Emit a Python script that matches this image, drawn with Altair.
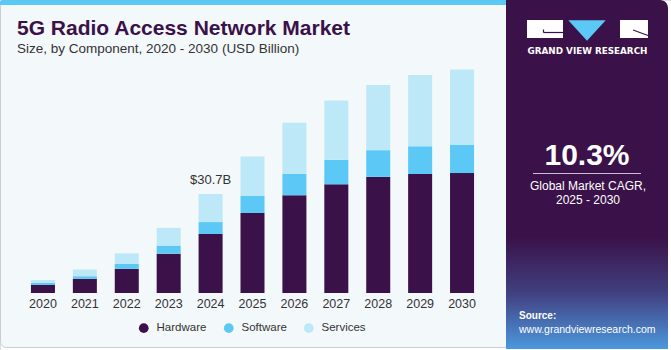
import altair as alt
import pandas as pd

years = ["2020", "2021", "2022", "2023", "2024", "2025", "2026", "2027", "2028", "2029", "2030"]
hardware = [2.5, 4.4, 7.5, 12.2, 18.3, 24.8, 30.3, 33.7, 36.0, 36.9, 37.2]
software = [0.6, 0.8, 1.5, 2.5, 3.7, 5.4, 6.6, 7.6, 8.3, 8.6, 8.8]
services = [0.9, 2.1, 3.3, 5.5, 8.7, 12.1, 15.9, 18.4, 20.2, 22.1, 23.3]
components = ["Hardware", "Software", "Services"]
colors = ["#3A1249", "#5BC8F5", "#BDE8F8"]
label_year = "2024"
label_text = "$30.7B"

title = "5G Radio Access Network Market"
subtitle = "Size, by Component, 2020 - 2030 (USD Billion)"
cagr = "10.3%"
cagr_line1 = "Global Market CAGR,"
cagr_line2 = "2025 - 2030"
brand = "GRAND VIEW RESEARCH"
source1 = "Source:"
source2 = "www.grandviewresearch.com"

PURPLE = "#3A1249"
FONT = "Liberation Sans"

rows = []
for i, y in enumerate(years):
    for k, (c, vals) in enumerate(zip(components, [hardware, software, services])):
        rows.append({"year": y, "component": c, "value": vals[i], "order": k})
df = pd.DataFrame(rows)
totals = pd.DataFrame({"year": years,
                       "total": [h + s + v for h, s, v in zip(hardware, software, services)]})

one = pd.DataFrame({"a": [0]})

xscale = alt.Scale(domain=years, range=[22, 483], paddingInner=0.427, paddingOuter=0.2135)
yscale = alt.Scale(domain=[0, 90.86], range=[293, 0], nice=False, zero=True)

# Panels
left_panel = alt.Chart(one).mark_rect(
    fill="#F3F8FB", stroke="#C9CDD0", strokeWidth=1, cornerRadius=6
).encode(x=alt.value(0.5), x2=alt.value(510), y=alt.value(0.5), y2=alt.value(347.5))

stripe = alt.Chart(one).mark_rect(
    fill="#5BC8F5", cornerRadiusTopLeft=5
).encode(x=alt.value(0), x2=alt.value(507), y=alt.value(0), y2=alt.value(5))

right_panel = alt.Chart(one).mark_rect(
    cornerRadiusTopRight=8,
    fill=alt.Gradient(
        gradient="linear", x1=0, x2=0, y1=0, y2=1,
        stops=[
            alt.GradientStop(color=PURPLE, offset=0),
            alt.GradientStop(color=PURPLE, offset=0.68),
            alt.GradientStop(color="#414080", offset=0.84),
            alt.GradientStop(color="#4C98DE", offset=1),
        ],
    ),
).encode(x=alt.value(506), x2=alt.value(668), y=alt.value(0), y2=alt.value(349))

# Bars
bars = alt.Chart(df).mark_bar().encode(
    x=alt.X("year:N", scale=xscale, axis=None),
    y=alt.Y("value:Q", stack="zero", scale=yscale, axis=None),
    color=alt.Color(
        "component:N",
        scale=alt.Scale(domain=components, range=colors),
        legend=alt.Legend(
            title=None, orient="none", direction="horizontal",
            legendX=138, legendY=322, padding=0,
            symbolType="circle", symbolSize=95, symbolStrokeWidth=0,
            labelFontSize=11.5, labelColor="#333333", labelFont=FONT,
            labelOffset=7, columnPadding=16,
        ),
    ),
    order=alt.Order("order:Q"),
)

year_labels = alt.Chart(totals).mark_text(
    fontSize=12.5, color="#333333", baseline="alphabetic", font=FONT
).encode(x=alt.X("year:N", scale=xscale, axis=None), y=alt.value(308), text="year:N")

bar_label = alt.Chart(totals).transform_filter(
    alt.datum.year == label_year
).mark_text(
    fontSize=13, color="#333333", baseline="alphabetic", dy=-10, font=FONT
).encode(
    x=alt.X("year:N", scale=xscale, axis=None),
    y=alt.Y("total:Q", scale=yscale, axis=None),
    text=alt.value(label_text),
)

# Title texts
t_title = alt.Chart(one).mark_text(
    text=title, fontSize=21, fontWeight="bold", color=PURPLE, align="left",
    baseline="alphabetic", font=FONT
).encode(x=alt.value(17), y=alt.value(35))

t_sub = alt.Chart(one).mark_text(
    text=subtitle, fontSize=13.5, color="#333333", align="left",
    baseline="alphabetic", font=FONT
).encode(x=alt.value(17), y=alt.value(53))

# Logo
logo_rects = alt.Chart(pd.DataFrame({"x": [527, 620], "x2": [563, 648]})).mark_rect(
    fill="white"
).encode(x=alt.X("x:Q", scale=None), x2="x2:Q", y=alt.value(20), y2=alt.value(38))

logo_tri = alt.Chart(one).mark_point(
    shape="M -1 -0.55 L 1 -0.55 L 0 0.55 Z", filled=True, fill="#5BC8F5",
    opacity=1, size=1400, strokeWidth=0
).encode(x=alt.value(587), y=alt.value(30.5))

logo_line1 = alt.Chart(one).mark_rule(color=PURPLE, strokeWidth=1.2).encode(
    x=alt.value(543.5), x2=alt.value(563), y=alt.value(32.5), y2=alt.value(32.5))
logo_line2 = alt.Chart(one).mark_rule(color=PURPLE, strokeWidth=1.2).encode(
    x=alt.value(543.5), x2=alt.value(543.5), y=alt.value(29.5), y2=alt.value(32.5))
logo_line3 = alt.Chart(one).mark_rule(color=PURPLE, strokeWidth=1.2).encode(
    x=alt.value(633), x2=alt.value(648), y=alt.value(30), y2=alt.value(35.5))

t_brand = alt.Chart(one).mark_text(
    text=brand, fontSize=8.8, fontWeight="bold", color="white", align="center",
    baseline="alphabetic", font="DejaVu Sans"
).encode(x=alt.value(587.5), y=alt.value(53.5))

t_cagr = alt.Chart(one).mark_text(
    text=cagr, fontSize=30, fontWeight="bold", color="white", align="center",
    baseline="alphabetic", font=FONT
).encode(x=alt.value(587), y=alt.value(165))

sep = alt.Chart(one).mark_rule(color="#C9BFD3", strokeWidth=1.2).encode(
    x=alt.value(533), x2=alt.value(641), y=alt.value(173.5), y2=alt.value(173.5))

t_c1 = alt.Chart(one).mark_text(
    text=cagr_line1, fontSize=12, color="white", align="center",
    baseline="alphabetic", font=FONT
).encode(x=alt.value(588), y=alt.value(190))

t_c2 = alt.Chart(one).mark_text(
    text=cagr_line2, fontSize=12, color="white", align="center",
    baseline="alphabetic", font=FONT
).encode(x=alt.value(588), y=alt.value(204))

t_s1 = alt.Chart(one).mark_text(
    text=source1, fontSize=10, fontWeight="bold", color="white", align="left",
    baseline="alphabetic", font=FONT
).encode(x=alt.value(519), y=alt.value(319))

t_s2 = alt.Chart(one).mark_text(
    text=source2, fontSize=10.5, color="white", align="left",
    baseline="alphabetic", font=FONT
).encode(x=alt.value(519), y=alt.value(333))

chart = alt.layer(
    left_panel, stripe, right_panel,
    bars, year_labels, bar_label,
    t_title, t_sub,
    logo_rects, logo_tri, logo_line1, logo_line2, logo_line3, t_brand,
    t_cagr, sep, t_c1, t_c2, t_s1, t_s2,
).properties(
    width=671, height=350, padding=0,
    autosize=alt.AutoSizeParams(type="none"),
    background="white",
).configure_view(stroke=None).configure(font=FONT)

chart.save("out.html", embed_options={"renderer": "svg", "actions": False})
